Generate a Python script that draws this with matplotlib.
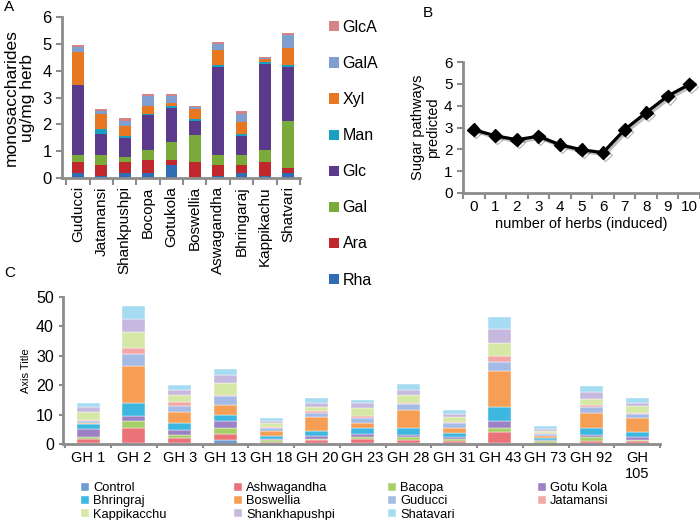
import matplotlib
matplotlib.use("Agg")
import matplotlib.pyplot as plt
import matplotlib.patheffects as pe
import numpy as np

plt.rcParams['font.family'] = ['Liberation Sans', 'DejaVu Sans']

# ---------------- Panel A data ----------------
herbs_a = ["Guducci", "Jatamansi", "Shankpushpi", "Bocopa", "Gotukola",
           "Boswellia", "Aswagandha", "Bhringaraj", "Kappikachu", "Shatvari"]
sugars = ["Rha", "Ara", "Gal", "Glc", "Man", "Xyl", "GalA", "GlcA"]
rha  = [0.20, 0.08, 0.20, 0.20, 0.50, 0.02, 0.08, 0.20, 0.08, 0.20]
ara  = [0.38, 0.42, 0.38, 0.48, 0.18, 0.56, 0.40, 0.28, 0.50, 0.18]
gal  = [0.29, 0.37, 0.19, 0.37, 0.67, 1.04, 0.39, 0.39, 0.47, 1.74]
glc  = [2.58, 0.78, 0.73, 1.28, 1.25, 0.50, 3.28, 0.68, 3.20, 2.03]
man  = [0.02, 0.18, 0.05, 0.07, 0.10, 0.08, 0.05, 0.10, 0.07, 0.07]
xyl  = [1.21, 0.57, 0.38, 0.30, 0.08, 0.38, 0.58, 0.45, 0.10, 0.63]
gala = [0.20, 0.10, 0.19, 0.35, 0.27, 0.05, 0.20, 0.30, 0.06, 0.48]
glca = [0.09, 0.08, 0.10, 0.07, 0.07, 0.05, 0.09, 0.10, 0.04, 0.09]
sugar_vals = [rha, ara, gal, glc, man, xyl, gala, glca]
sugar_colors = ["#2f6db5", "#c0282d", "#7aab3a", "#5b3a8c", "#1b9fbf",
                "#e87722", "#7f9fd0", "#d48484"]

# ---------------- Panel B data ----------------
n_herbs = [0, 1, 2, 3, 4, 5, 6, 7, 8, 9, 10]
pathways = [2.9, 2.62, 2.44, 2.6, 2.21, 1.98, 1.85, 2.9, 3.68, 4.44, 4.97]

# ---------------- Panel C data ----------------
groups = ["GH 1", "GH 2", "GH 3", "GH 13", "GH 18", "GH 20", "GH 23",
          "GH 28", "GH 31", "GH 43", "GH 73", "GH 92", "GH\n105"]
series_c = ["Control", "Ashwagandha", "Bacopa", "Gotu Kola", "Bhringraj",
            "Boswellia", "Guducci", "Jatamansi", "Kappikacchu",
            "Shankhapushpi", "Shatavari"]
control = [0.5, 0.3, 0.3, 1.5, 0.3, 0.3, 0.3, 0.3, 0.3, 0.3, 0.2, 0.3, 0.3]
ashw    = [1.2, 5.1, 1.7, 2.0, 0.5, 1.0, 1.5, 1.1, 0.8, 3.9, 0.3, 0.7, 0.7]
bacopa  = [0.8, 2.3, 0.9, 1.9, 0.6, 0.5, 0.5, 0.9, 0.5, 1.1, 0.5, 1.5, 0.4]
gotu    = [2.5, 1.7, 2.0, 2.3, 0.4, 1.0, 1.2, 0.6, 0.8, 2.5, 0.3, 0.5, 1.1]
bhring  = [1.8, 4.6, 2.2, 2.2, 0.9, 1.5, 2.0, 2.4, 1.2, 4.9, 0.6, 2.3, 1.7]
bosw    = [0.4, 12.6, 3.7, 3.5, 1.8, 5.0, 1.8, 6.3, 2.0, 12.1, 0.8, 5.4, 4.5]
gud     = [0.6, 4.1, 2.2, 2.8, 0.8, 1.2, 1.6, 2.0, 1.4, 3.2, 0.6, 2.0, 1.5]
jat     = [0.3, 1.9, 1.2, 0.6, 0.4, 0.6, 0.6, 0.4, 0.6, 2.0, 0.3, 0.5, 0.4]
kappi   = [2.8, 5.4, 2.6, 3.9, 1.3, 1.5, 2.8, 2.7, 1.5, 4.5, 0.9, 2.0, 2.2]
shankh  = [1.6, 4.5, 1.7, 2.9, 0.8, 1.5, 1.8, 1.5, 1.2, 4.5, 0.5, 2.6, 1.3]
shat    = [1.6, 4.5, 1.7, 1.9, 0.9, 1.4, 0.9, 2.1, 1.2, 4.3, 1.0, 1.9, 1.6]
vals_c = [control, ashw, bacopa, gotu, bhring, bosw, gud, jat, kappi, shankh, shat]
colors_c = ["#6e9bd1", "#ea7377", "#a6cf68", "#9c82c4", "#3db6e0",
            "#f79e55", "#a4bbe6", "#f4a7a7", "#d5e8a6", "#c7b8e0", "#a6dcf2"]

SPINE = "#8c8c8c"
W, H = 700, 520
fig = plt.figure(figsize=(7.0, 5.2), dpi=100)


def fx(px):
    return px / W


def fy(py):
    return 1 - py / H


def style_axes(ax):
    for s in ["top", "right"]:
        ax.spines[s].set_visible(False)
    for s in ["left", "bottom"]:
        ax.spines[s].set_color(SPINE)
        ax.spines[s].set_linewidth(2)
    ax.tick_params(axis="both", colors=SPINE, labelcolor="black",
                   direction="out", length=4, width=1.5)


# ---------------- Panel A ----------------
axA = fig.add_axes([fx(62), fy(178), fx(300) - fx(62), fy(17) - fy(178)])
style_axes(axA)
xa = np.arange(len(herbs_a))
bottom = np.zeros(len(herbs_a))
handles_a = []
for name, v, c in zip(sugars, sugar_vals, sugar_colors):
    b = axA.bar(xa, v, 0.5, bottom=bottom, color=c, label=name, linewidth=0)
    handles_a.append(b)
    bottom += np.array(v)
axA.set_xlim(-0.68, 9.45)
axA.set_ylim(0, 6)
axA.set_yticks(range(0, 7))
axA.tick_params(axis="y", labelsize=12)
axA.set_xticks(np.arange(-0.5, 10, 1), minor=False)
axA.set_xticks(xa, minor=True)
axA.set_xticklabels([])
axA.set_xticklabels(herbs_a, minor=True, rotation=90, fontsize=11)
axA.tick_params(axis="x", which="minor", length=0, pad=6)
axA.tick_params(axis="x", which="major", length=5)
axA.set_ylabel("monosaccharides\nug/mg herb", fontsize=12.5, linespacing=1.05)
axA.yaxis.set_label_coords(-0.115, 0.5)

legA = fig.legend(handles_a[::-1], sugars[::-1], loc="upper left",
                  bbox_to_anchor=(fx(321), fy(12)), frameon=False,
                  fontsize=11.5, handlelength=0.6, handleheight=0.6,
                  handletextpad=0.25, labelspacing=1.32, borderpad=0)

fig.text(fx(4), fy(7), "A", fontsize=11, va="center", ha="left")

# ---------------- Panel B ----------------
axB = fig.add_axes([fx(463), fy(193), fx(700) - fx(463), fy(62) - fy(193)])
style_axes(axB)
axB.plot(n_herbs, pathways, color="black", lw=2.3, marker="D", ms=6.5,
         path_effects=[pe.SimpleLineShadow(offset=(1.5, -1.5), alpha=0.25),
                       pe.Normal()])
axB.set_xlim(-0.5, 10.5)
axB.set_ylim(0, 6)
axB.set_yticks(range(0, 7))
axB.set_xticks(np.arange(-0.5, 11, 1))
axB.set_xticklabels([])
axB.set_xticks(n_herbs, minor=True)
axB.set_xticklabels([str(n) for n in n_herbs], minor=True, fontsize=11)
axB.tick_params(axis="x", which="minor", length=0, pad=5)
axB.tick_params(axis="y", labelsize=11)
axB.set_ylabel("Sugar pathways\npredicted", fontsize=10.5, linespacing=1.05)
axB.yaxis.set_label_coords(-0.097, 0.5)
axB.set_xlabel("number of herbs (induced)", fontsize=10.5, labelpad=2)
fig.text(fx(428), fy(13), "B", fontsize=11, va="center", ha="center")

# ---------------- Panel C ----------------
axC = fig.add_axes([fx(63), fy(444), fx(660) - fx(63), fy(297) - fy(444)])
style_axes(axC)
xc = np.arange(len(groups))
bottom = np.zeros(len(groups))
handles_c = []
for name, v, c in zip(series_c, vals_c, colors_c):
    b = axC.bar(xc, v, 0.5, bottom=bottom, color=c, label=name,
                edgecolor="white", linewidth=0.3)
    handles_c.append(b)
    bottom += np.array(v)
axC.set_xlim(-0.55, 12.5)
axC.set_ylim(0, 50)
axC.set_yticks(range(0, 51, 10))
axC.tick_params(axis="y", labelsize=11.5, length=3)
axC.set_xticks(np.arange(-0.5, 13, 1))
axC.set_xticklabels([])
axC.set_xticks(xc, minor=True)
axC.set_xticklabels(groups, minor=True, fontsize=10.5, va="top")
axC.tick_params(axis="x", which="minor", length=0, pad=5)
axC.tick_params(axis="x", which="major", length=3)
axC.set_ylabel("Axis Title", fontsize=8)
axC.yaxis.set_label_coords(-0.054, 0.5)
fig.text(fx(4), fy(273), "C", fontsize=11, va="center", ha="left")

# legend for C: 4 columns, row-major order
col_x = [75, 228, 382, 532]
for ci in range(4):
    idx = list(range(ci, len(series_c), 4))
    lg = fig.legend([handles_c[i] for i in idx], [series_c[i] for i in idx],
                    loc="upper left", bbox_to_anchor=(fx(col_x[ci]), fy(476)),
                    frameon=False, fontsize=9.3, handlelength=0.6,
                    handleheight=0.6, handletextpad=0.3, labelspacing=0.08,
                    borderpad=0)

fig.savefig("out.png", dpi=100)
